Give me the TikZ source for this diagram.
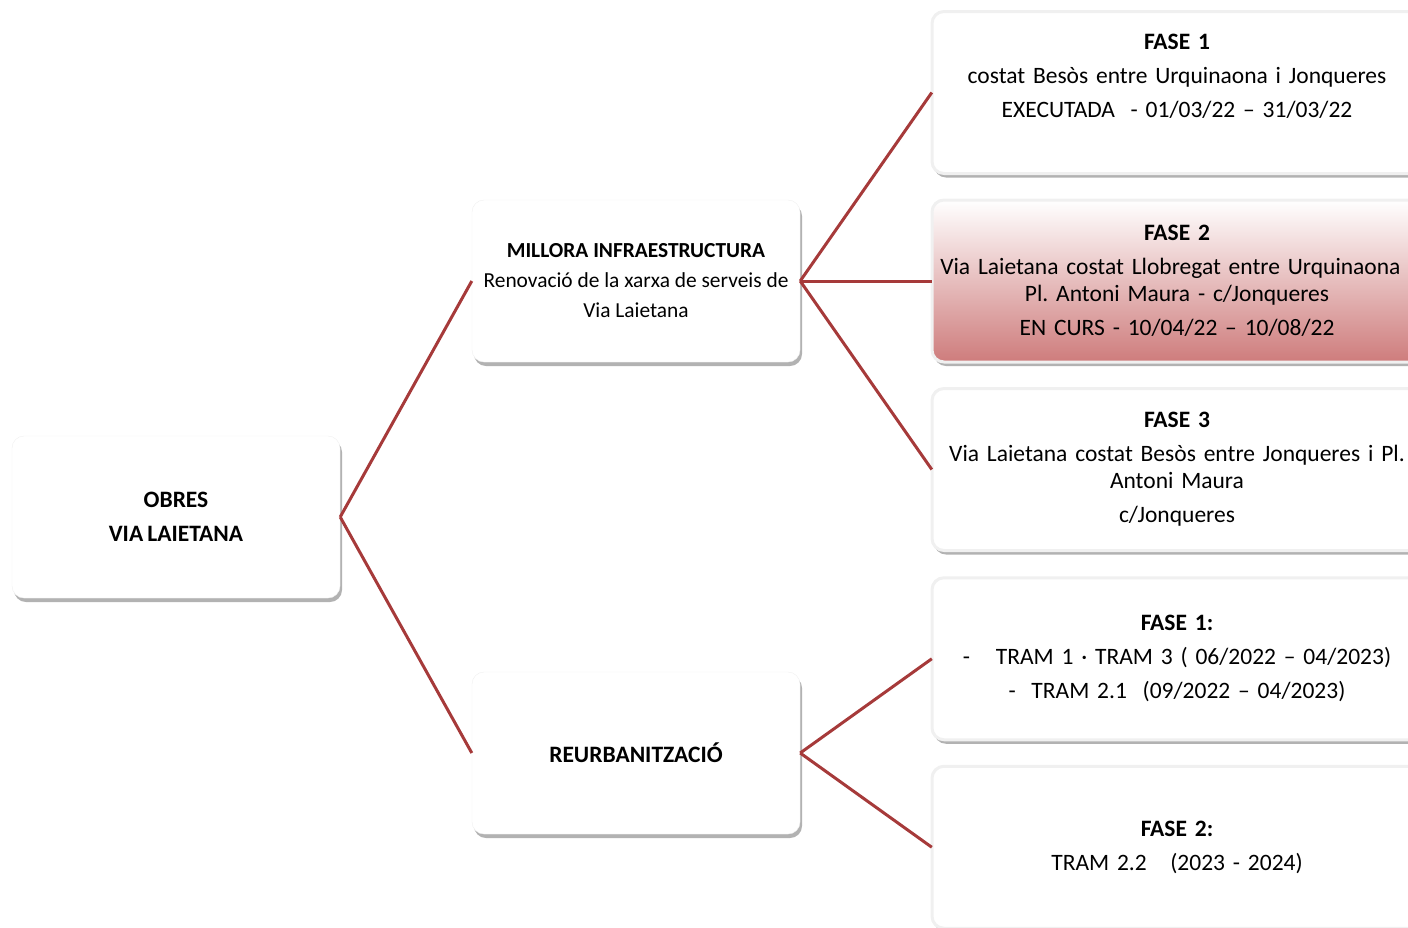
\documentclass[tikz,border=0pt]{standalone}
\usepackage{fontspec}
\setmainfont{Carlito}
\usetikzlibrary{shadows}

\definecolor{laietred}{RGB}{166,58,58}
\definecolor{cursred}{RGB}{206,124,124}
\newcommand{\boxfont}{\fontsize{23.5}{27}\selectfont\setlength{\spaceskip}{0.18em}}

\begin{document}
\frenchspacing
\begin{tikzpicture}[x=1pt, y=-1pt, grow'=right,
  every node/.style = {shape=rectangle, rounded corners=12pt,
    draw=black!6, fill=white, align=center, inner sep=0pt,
    font=\boxfont,
    drop shadow={shadow xshift=2pt, shadow yshift=-4pt,
      fill=black!55, opacity=0.55}},
  leftbox/.style = {minimum width=328pt, minimum height=162pt},
  rightbox/.style = {minimum width=490pt, minimum height=162pt,
    text width=490pt},
  level 1/.style = {level distance=460pt, sibling distance=472pt},
  level 2/.style = {level distance=541pt, sibling distance=188.5pt},
  edge from parent/.style = {draw=laietred, line width=3pt},
  edge from parent path = {(\tikzparentnode.east) -- (\tikzchildnode.west)}]
  \useasboundingbox (0,0) rectangle (1408,927);
  \clip (0,0) rectangle (1408,927);
  \node[leftbox] (obres) at (176,517) {\bfseries OBRES\\[7pt] \bfseries VIA LAIETANA}
    child { node[leftbox, font=\fontsize{21.4}{30}\selectfont] (millora)
        {{\bfseries MILLORA INFRAESTRUCTURA}\\ Renovació de la xarxa de serveis de\\ Via Laietana}
      child { node[rightbox] (fase1)
          {{\bfseries FASE 1}\\[7pt] costat Besòs entre Urquinaona i Jonqueres\\[7pt]
           EXECUTADA\ \ - 01/03/22 – 31/03/22\\[7pt] \mbox{}} }
      child { node[rightbox, top color=white, middle color=cursred!25,
          bottom color=cursred] (fase2)
          {{\bfseries FASE 2}\\[7pt]
           \makebox[\linewidth]{Via Laietana costat Llobregat entre Urquinaona i}\\
           Pl. Antoni Maura - c/Jonqueres\\[7pt] EN CURS - 10/04/22 – 10/08/22} }
      child { node[rightbox] (fase3)
          {{\bfseries FASE 3}\\[7pt] Via Laietana costat Besòs entre Jonqueres i Pl.\\
           Antoni Maura\\[7pt] c/Jonqueres} }}
    child { node[leftbox] (reurb) {\bfseries REURBANITZACIÓ}
      child { node[rightbox] (tram1)
          {{\bfseries FASE 1:}\\[7pt] -\hspace{1.1em}TRAM 1 · TRAM 3 ( 06/2022 – 04/2023)\\[7pt]
           -\ \ TRAM 2.1\ \ (09/2022 – 04/2023)} }
      child { node[rightbox] (tram2)
          {{\bfseries FASE 2:}\\[7pt] TRAM 2.2\ \ \ (2023 - 2024)} }};
\end{tikzpicture}
\end{document}
